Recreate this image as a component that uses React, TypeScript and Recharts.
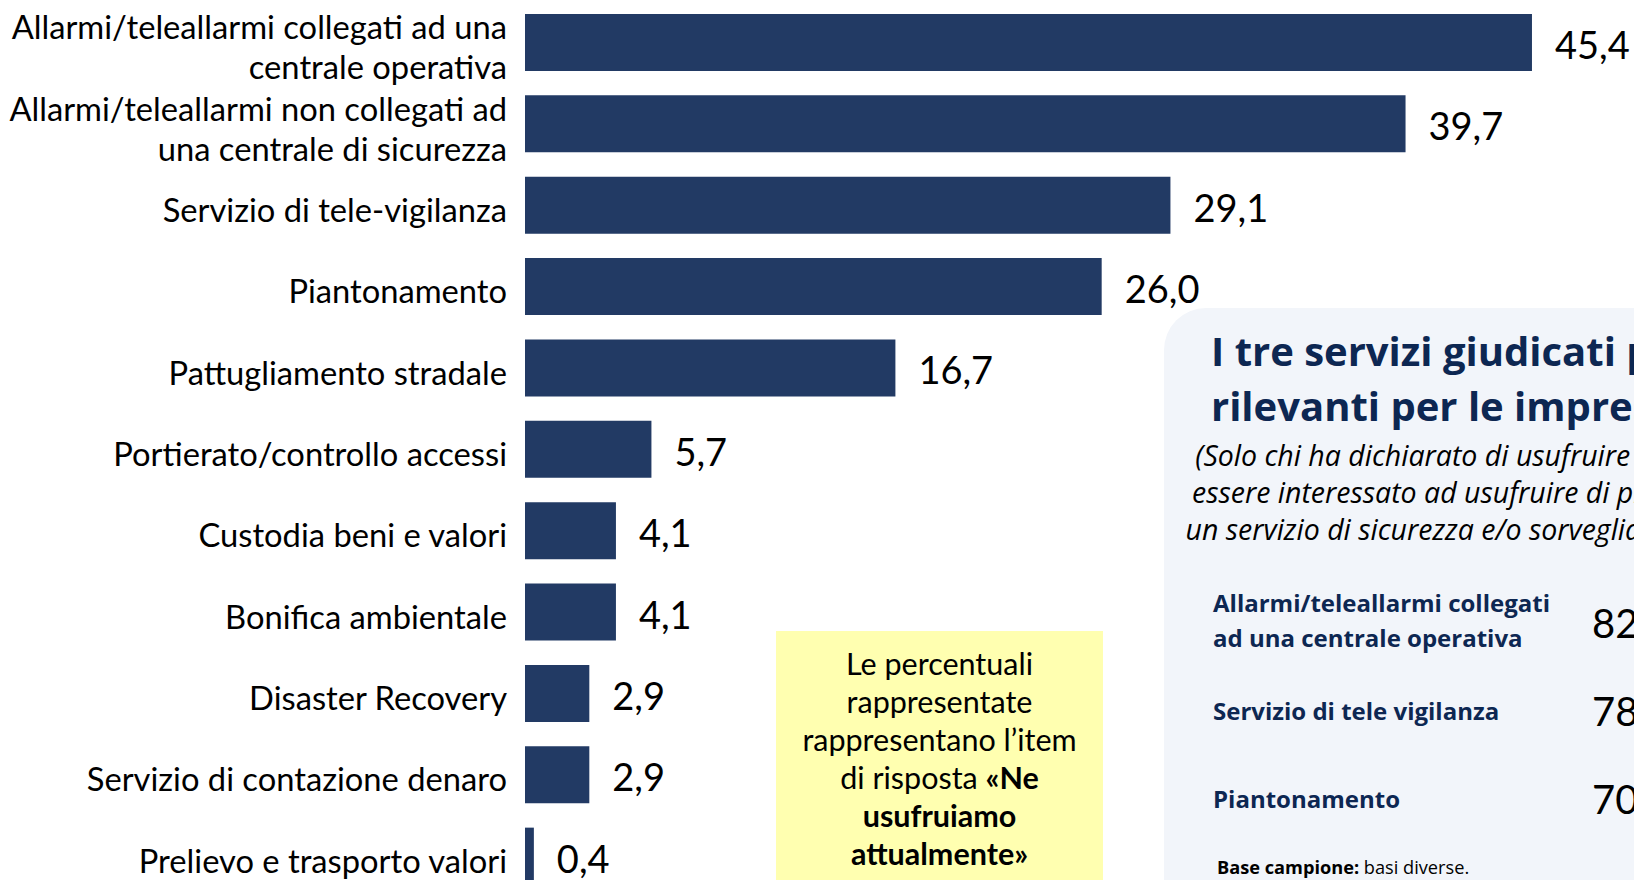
import React from 'react';
import { BarChart, Bar, XAxis, YAxis, LabelList } from 'recharts';

const categories = [
  'Allarmi/teleallarmi collegati ad una\ncentrale operativa',
  'Allarmi/teleallarmi non collegati ad\nuna centrale di sicurezza',
  'Servizio di tele-vigilanza',
  'Piantonamento',
  'Pattugliamento stradale',
  'Portierato/controllo accessi',
  'Custodia beni e valori',
  'Bonifica ambientale',
  'Disaster Recovery',
  'Servizio di contazione denaro',
  'Prelievo e trasporto valori',
];
const values = [45.4, 39.7, 29.1, 26.0, 16.7, 5.7, 4.1, 4.1, 2.9, 2.9, 0.4];

const topServices = [
  'Allarmi/teleallarmi collegati\nad una centrale operativa',
  'Servizio di tele vigilanza',
  'Piantonamento',
];
const topValues = ['82', '78', '70'];

const data = categories.map((name, i) => ({ name, value: values[i] }));

const BAR = '#223a64';
const NAVY = '#0d2752';
const LABEL_FONT = 'Lato, "Liberation Sans", sans-serif';
const PANEL_FONT = '"Open Sans", "Noto Sans", sans-serif';

const fmt = (v: number) => v.toFixed(1).replace('.', ',');

const CategoryTick = (props: any) => {
  const { x, y, payload } = props;
  const lines = String(payload.value).split('\n');
  const lh = 40;
  const start = -((lines.length - 1) * lh) / 2 + 4;
  return (
    <text x={x} y={y} textAnchor="end" fill="#000" fontSize={32.7} fontFamily={LABEL_FONT}>
      {lines.map((l, i) => (
        <tspan key={i} x={x} dy={i === 0 ? start : lh} dominantBaseline="central">
          {l}
        </tspan>
      ))}
    </text>
  );
};

export default function App() {
  return (
    <div
      style={{
        position: 'fixed',
        left: 0,
        top: 0,
        width: 1634,
        height: 880,
        overflow: 'hidden',
        background: '#fff',
      }}
    >
      <div style={{ position: 'absolute', left: 0, top: 0 }}>
        <BarChart
          width={1634}
          height={897}
          data={data}
          layout="vertical"
          margin={{ top: 2, right: 0, bottom: 0, left: 0 }}
        >
          <XAxis type="number" domain={[0, 50]} hide />
          <YAxis
            type="category"
            dataKey="name"
            width={525}
            axisLine={false}
            tickLine={false}
            tickSize={0}
            tickMargin={18}
            tick={<CategoryTick />}
            interval={0}
          />
          <Bar dataKey="value" fill={BAR} barSize={57} isAnimationActive={false}>
            <LabelList
              dataKey="value"
              position="right"
              offset={23}
              formatter={(v: any) => fmt(Number(v))}
              style={{ fontSize: 38, fontFamily: LABEL_FONT, fill: '#000', transform: 'translateY(3px)' }}
            />
          </Bar>
        </BarChart>
      </div>

      {/* yellow note */}
      <div
        style={{
          position: 'absolute',
          left: 776,
          top: 631,
          width: 327,
          height: 270,
          background: '#ffffb0',
          fontFamily: LABEL_FONT,
          fontSize: 30.5,
          lineHeight: '38px',
          textAlign: 'center',
          color: '#000',
          paddingTop: 13,
          boxSizing: 'border-box',
          whiteSpace: 'nowrap',
        }}
      >
        Le percentuali
        <br />
        rappresentate
        <br />
        rappresentano l’item
        <br />
        di risposta <b>«Ne</b>
        <br />
        <b>usufruiamo</b>
        <br />
        <b>attualmente»</b>
      </div>

      {/* right panel */}
      <div
        style={{
          position: 'absolute',
          left: 1164,
          top: 308,
          width: 700,
          height: 700,
          background: '#f2f5fa',
          borderRadius: 42,
        }}
      />
      <div
        style={{
          position: 'absolute',
          left: 1211,
          top: 323,
          whiteSpace: 'nowrap',
          fontFamily: PANEL_FONT,
          fontWeight: 700,
          fontSize: 40,
          lineHeight: '55px',
          color: NAVY,
        }}
      >
        I tre servizi giudicati più
        <br />
        rilevanti per le imprese
      </div>
      <div
        style={{
          position: 'absolute',
          left: 1140,
          top: 437,
          width: 600,
          textAlign: 'center',
          whiteSpace: 'nowrap',
          fontFamily: PANEL_FONT,
          fontStyle: 'italic',
          fontSize: 28.5,
          lineHeight: '37px',
          color: '#000',
        }}
      >
        (Solo chi ha dichiarato di usufruire o di
        <br />
        essere interessato ad usufruire di più di
        <br />
        un servizio di sicurezza e/o sorveglianza)
      </div>
      {topServices.map((s, i) => {
        const tops = [585, 693, 781];
        const numTops = [600, 688, 776];
        return (
          <React.Fragment key={s}>
            <div
              style={{
                position: 'absolute',
                left: 1213,
                top: tops[i],
                whiteSpace: 'pre',
                fontFamily: PANEL_FONT,
                fontWeight: 700,
                fontSize: 24,
                lineHeight: '35px',
                color: NAVY,
              }}
            >
              {s}
            </div>
            <div
              style={{
                position: 'absolute',
                left: 1592,
                top: numTops[i],
                fontFamily: LABEL_FONT,
                fontSize: 40,
                lineHeight: '46px',
                color: '#000',
              }}
            >
              {topValues[i]}
            </div>
          </React.Fragment>
        );
      })}
      <div
        style={{
          position: 'absolute',
          left: 1217,
          top: 855,
          whiteSpace: 'nowrap',
          fontFamily: PANEL_FONT,
          fontSize: 18.2,
          color: '#000',
        }}
      >
        <b>Base campione:</b> basi diverse.
      </div>
    </div>
  );
}
